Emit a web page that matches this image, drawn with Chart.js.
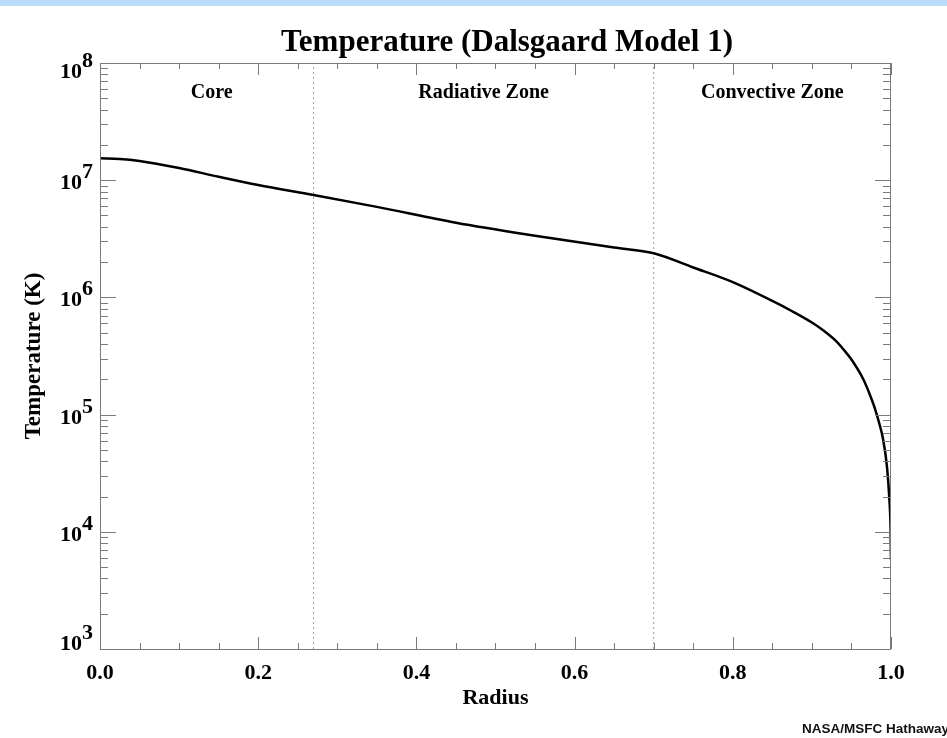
<!DOCTYPE html>
<html>
<head>
<meta charset="utf-8">
<title>Temperature (Dalsgaard Model 1)</title>
<script src="https://cdn.jsdelivr.net/npm/chart.js@4/dist/chart.umd.min.js"></script>
<style>
  html, body { margin: 0; padding: 0; background: #fff; }
  canvas { display: block; }
</style>
</head>
<body>
<canvas id="temp-chart" width="947" height="738"></canvas>
<script>
'use strict';

// radius (fraction of solar radius) and temperature (K)
let radius = [0, 0.025, 0.05, 0.1, 0.15, 0.2, 0.27, 0.35, 0.45, 0.55, 0.65, 0.7,
  0.75, 0.8, 0.85, 0.875, 0.9, 0.915, 0.93, 0.94, 0.95, 0.965, 0.975, 0.98,
  0.985, 0.99, 0.995, 0.998, 0.9995, 1.0];
let temperature = [1.54e7, 1.52e7, 1.46e7, 1.27e7, 1.07e7, 9.1e6, 7.48e6, 5.92e6,
  4.34e6, 3.36e6, 2.66e6, 2.38e6, 1.80e6, 1.35e6, 9.33e5, 7.62e5, 6.10e5,
  5.19e5, 4.27e5, 3.59e5, 2.95e5, 2.0e5, 1.38e5, 1.11e5, 8.5e4, 6.17e4,
  3.55e4, 1.86e4, 1.05e4, 5.75e3];

let zoneBounds = [0.27, 0.70];
let zoneNames = ['Core', 'Radiative Zone', 'Convective Zone'];

let xTicks = [0, 0.2, 0.4, 0.6, 0.8, 1.0];
let yExponents = [3, 4, 5, 6, 7, 8];

let titleText = 'Temperature (Dalsgaard Model 1)';
let xTitle = 'Radius';
let yTitle = 'Temperature (K)';
let creditText = 'NASA/MSFC Hathaway';

let serif = '"Liberation Serif", "Times New Roman", serif';
let axisGray = '#7a7a7a';

let curvePoints = [];
for (let i = 0; i < radius.length; i++) {
  curvePoints.push({ x: radius[i], y: temperature[i] });
}

let yMin = Math.pow(10, yExponents[0]);
let yMax = Math.pow(10, yExponents[yExponents.length - 1]);

let boundarySets = zoneBounds.map(function (b) {
  return {
    data: [{ x: b, y: yMin }, { x: b, y: yMax }],
    borderColor: '#9e9e9e',
    borderWidth: 1,
    borderDash: [2, 3],
    pointRadius: 0,
    order: 1
  };
});

// frame, inward ticks and all text around the plot
let decorations = {
  id: 'decorations',
  beforeDraw: function (chart) {
    let ctx = chart.ctx;
    ctx.save();
    ctx.fillStyle = '#bcdcfc';
    ctx.fillRect(0, 0, chart.width, 6);
    ctx.restore();
  },
  afterDraw: function (chart) {
    let ctx = chart.ctx;
    let area = chart.chartArea;
    let xs = chart.scales.x;
    let ys = chart.scales.y;

    ctx.save();
    ctx.strokeStyle = axisGray;
    ctx.lineWidth = 1;
    ctx.strokeRect(area.left + 0.5, area.top + 0.5, area.right - area.left - 1, area.bottom - area.top);

    function line(x1, y1, x2, y2) {
      ctx.beginPath();
      ctx.moveTo(x1, y1);
      ctx.lineTo(x2, y2);
      ctx.stroke();
    }

    // x ticks, bottom and top
    for (let v = 0; v <= 1.0001; v += 0.05) {
      let px = Math.round(xs.getPixelForValue(v)) + 0.5;
      let major = Math.abs(v * 5 - Math.round(v * 5)) < 1e-6;
      let len = major ? 12 : 6;
      line(px, area.bottom, px, area.bottom - len);
      line(px, area.top, px, area.top + len);
    }

    // y ticks, left and right
    for (let e = yExponents[0]; e <= yExponents[yExponents.length - 1]; e++) {
      for (let m = 1; m <= 9; m++) {
        if (e === yExponents[yExponents.length - 1] && m > 1) break;
        let py = Math.round(ys.getPixelForValue(m * Math.pow(10, e))) + 0.5;
        let len = m === 1 ? 16 : 8;
        line(area.left, py, area.left + len, py);
        line(area.right, py, area.right - len, py);
      }
    }

    ctx.fillStyle = '#000';
    ctx.textBaseline = 'alphabetic';

    // x tick labels
    ctx.font = 'bold 22px ' + serif;
    ctx.textAlign = 'center';
    xTicks.forEach(function (v) {
      ctx.fillText(v.toFixed(1), xs.getPixelForValue(v), area.bottom + 30);
    });

    // y tick labels as 10 with a raised exponent
    yExponents.forEach(function (e, i) {
      let py = ys.getPixelForValue(Math.pow(10, e));
      let shift = 9;
      if (i === 0) shift = 1;
      if (i === yExponents.length - 1) shift = 15;
      ctx.textAlign = 'right';
      ctx.fillText('10', 82, py + shift);
      ctx.textAlign = 'left';
      ctx.fillText(String(e), 82, py + shift - 11);
    });

    // zone names
    ctx.font = 'bold 20px ' + serif;
    ctx.textAlign = 'center';
    let edges = [xs.min].concat(zoneBounds, [xs.max]);
    zoneNames.forEach(function (name, i) {
      let mid = (edges[i] + edges[i + 1]) / 2;
      let nudge = i === 0 ? 5 : 0;
      ctx.fillText(name, xs.getPixelForValue(mid) + nudge, area.top + 35);
    });

    // titles
    ctx.font = 'bold 31px ' + serif;
    ctx.fillText(titleText, 507, 51);
    ctx.font = 'bold 22px ' + serif;
    ctx.fillText(xTitle, (area.left + area.right) / 2, area.bottom + 55);

    ctx.save();
    ctx.translate(34, 356);
    ctx.rotate(-Math.PI / 2);
    ctx.textBaseline = 'middle';
    ctx.font = 'bold 23px ' + serif;
    ctx.fillText(yTitle, 0, 0);
    ctx.restore();

    ctx.font = 'bold 13.5px "Liberation Sans", Arial, sans-serif';
    ctx.textAlign = 'right';
    ctx.fillStyle = '#111';
    ctx.fillText(creditText, 949, 733);

    ctx.restore();
  }
};

let chartObj = {
  type: 'line',
  data: {
    datasets: [{
      data: curvePoints,
      borderColor: '#000',
      borderWidth: 2.5,
      pointRadius: 0,
      cubicInterpolationMode: 'monotone',
      order: 0
    }].concat(boundarySets)
  },
  options: {
    responsive: false,
    animation: false,
    devicePixelRatio: 1,
    layout: {
      padding: { left: 100, right: 56, top: 63, bottom: 89 }
    },
    scales: {
      x: { type: 'linear', min: 0, max: 1, display: false },
      y: { type: 'logarithmic', min: yMin, max: yMax, display: false }
    },
    plugins: {
      legend: { display: false },
      title: { display: false },
      tooltip: { enabled: false }
    }
  },
  plugins: [decorations]
};

new Chart(document.getElementById('temp-chart'), chartObj); //eslint-disable-line
</script>
</body>
</html>
